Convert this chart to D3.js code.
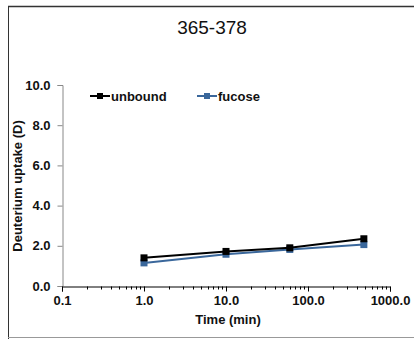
<!DOCTYPE html>
<html>
<head>
<meta charset="utf-8">
<script src="https://cdn.jsdelivr.net/npm/d3@7"></script>
<style>
  html, body { margin: 0; padding: 0; background: #fff; }
  svg { display: block; font-family: Arial, "Liberation Sans", sans-serif; }
</style>
</head>
<body>
<svg id="chart" width="414" height="339"></svg>
<script>
// Deuterium uptake over time for peptide 365-378
const times = [1, 10, 60, 480];
const unbound = [1.40, 1.72, 1.90, 2.35];
const fucose = [1.15, 1.58, 1.82, 2.06];
const seriesNames = ["unbound", "fucose"];
const seriesColors = ["#000000", "#3a679b"];
const yTicks = [0, 2, 4, 6, 8, 10];
const xTicks = [0.1, 1, 10, 100, 1000];

const FONT = "Arial, 'Liberation Sans', sans-serif";
const svg = d3.select("#chart");

// frame
svg.append("line").attr("x1", 8).attr("x2", 414).attr("y1", 6.5).attr("y2", 6.5)
  .attr("stroke", "#333").attr("stroke-width", 1.5);
svg.append("line").attr("x1", 8.5).attr("x2", 8.5).attr("y1", 6).attr("y2", 339)
  .attr("stroke", "#333").attr("stroke-width", 1);
svg.append("line").attr("x1", 8).attr("x2", 414).attr("y1", 337.5).attr("y2", 337.5)
  .attr("stroke", "#999").attr("stroke-width", 1);

const x = d3.scaleLog().domain([0.1, 1000]).range([62, 390]);
const y = d3.scaleLinear().domain([0, 10]).range([286, 85]);

// title
svg.append("text").attr("x", 212).attr("y", 34).attr("text-anchor", "middle")
  .attr("font-size", 19).attr("fill", "#111").text("365-378");

// y axis
const yAxis = svg.append("g").attr("transform", "translate(62.5,0)")
  .call(d3.axisLeft(y).tickValues(yTicks).tickSize(5).tickPadding(7).tickFormat(d3.format(".1f")));
yAxis.select(".domain").attr("stroke", "#888");
yAxis.selectAll(".tick line").attr("stroke", "#888");
yAxis.selectAll(".tick text").attr("font-size", 13).attr("font-weight", "bold").attr("fill", "#111")
  .attr("font-family", FONT);

// x axis with minor ticks
const minor = [];
for (let p = -1; p < 3; p++) for (let k = 2; k <= 9; k++) minor.push(k * Math.pow(10, p));
svg.append("g").attr("transform", "translate(0,286.5)")
  .selectAll("line").data(minor).join("line")
  .attr("x1", d => Math.round(x(d)) + 0.5).attr("x2", d => Math.round(x(d)) + 0.5)
  .attr("y1", 0).attr("y2", 3).attr("stroke", "#000");
const xAxis = svg.append("g").attr("transform", "translate(0,286.5)")
  .call(d3.axisBottom(x).tickValues(xTicks).tickSize(5).tickPadding(4).tickFormat(d3.format(".1f")));
xAxis.select(".domain").attr("stroke", "#000");
xAxis.selectAll(".tick line").attr("stroke", "#000");
xAxis.selectAll(".tick text").attr("font-size", 13).attr("font-weight", "bold").attr("fill", "#111")
  .attr("font-family", FONT);

// axis titles
svg.append("text").attr("x", 228).attr("y", 324).attr("text-anchor", "middle")
  .attr("font-size", 13).attr("font-weight", "bold").attr("fill", "#111").text("Time (min)");
svg.append("text").attr("transform", "translate(22,186) rotate(-90)").attr("text-anchor", "middle")
  .attr("font-size", 13).attr("font-weight", "bold").attr("fill", "#111").text("Deuterium uptake (D)");

// series
const data = [unbound, fucose];
const line = d3.line().x(d => x(d.t)).y(d => y(d.v));
// draw fucose first so unbound sits on top
[1, 0].forEach(i => {
  const pts = times.map((t, j) => ({ t, v: data[i][j] }));
  svg.append("path").datum(pts).attr("d", line).attr("fill", "none")
    .attr("stroke", seriesColors[i]).attr("stroke-width", 2);
  svg.append("g").selectAll("rect").data(pts).join("rect")
    .attr("x", d => x(d.t) - 3.5).attr("y", d => y(d.v) - 3.5)
    .attr("width", 7).attr("height", 7).attr("fill", seriesColors[i]);
});

// legend
const legendX = [90, 197];
seriesNames.forEach((name, i) => {
  const g = svg.append("g").attr("transform", `translate(${legendX[i]},96)`);
  g.append("line").attr("x1", 0).attr("x2", 20).attr("y1", 0).attr("y2", 0)
    .attr("stroke", seriesColors[i]).attr("stroke-width", 2);
  g.append("rect").attr("x", 7).attr("y", -3).attr("width", 6).attr("height", 6).attr("fill", seriesColors[i]);
  g.append("text").attr("x", 21).attr("y", 4.5).attr("font-size", 13).attr("font-weight", "bold")
    .attr("fill", "#111").text(name);
});
</script>
</body>
</html>
